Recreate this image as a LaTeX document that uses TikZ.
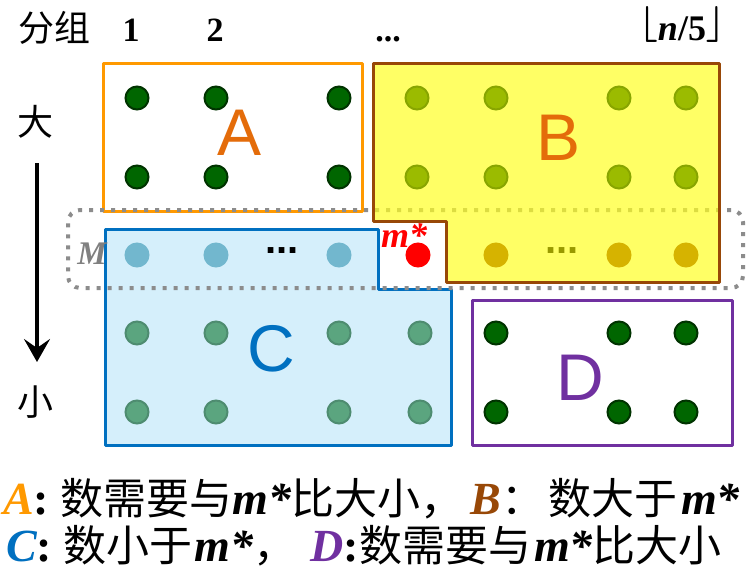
\documentclass[tikz,border=0pt]{standalone}
\usepackage{fontspec}
\setmainfont{Liberation Serif}
\newfontfamily\cjk{Noto Sans CJK SC}
\newfontfamily\arialf{Liberation Sans}
\usetikzlibrary{arrows.meta}
\definecolor{cAbord}{HTML}{FF9900}
\definecolor{cLetter}{HTML}{E46C0A}
\definecolor{cBbord}{HTML}{984807}
\definecolor{cBfill}{HTML}{FFFF24}
\definecolor{cCbord}{HTML}{0070C0}
\definecolor{cCfill}{HTML}{D5EFFB}
\definecolor{cDbord}{HTML}{7030A0}
\definecolor{dkgreen}{HTML}{006600}
\definecolor{dkgreenb}{HTML}{003300}
\definecolor{olivedot}{HTML}{9BBB00}
\definecolor{olivedotb}{HTML}{88A500}
\definecolor{golddot}{HTML}{D6B300}
\definecolor{ltbluedot}{HTML}{72B7CE}
\definecolor{tealdot}{HTML}{5BA57F}
\definecolor{tealdotb}{HTML}{4E8C70}
\definecolor{dotgray}{HTML}{8C8C8C}
\definecolor{olivetxt}{HTML}{999900}
\newcommand\zh[1]{{\fontsize{43}{48}\selectfont\cjk #1}}
\newcommand\bi[1]{{\bfseries\itshape #1}}
\newcommand\flb[1]{\raisebox{7pt}{\scalebox{3.6}{\normalsize\boldmath$#1$}}}
\tikzset{
  dotbase/.style={circle, inner sep=0pt, minimum size=23pt, line width=2pt},
  dotA/.style={dotbase, fill=dkgreen, draw=dkgreenb},
  dotB/.style={dotbase, fill=olivedot, draw=olivedotb},
  dotG/.style={dotbase, fill=golddot, draw=golddot},
  dotL/.style={dotbase, fill=ltbluedot, draw=ltbluedot},
  dotT/.style={dotbase, fill=tealdot, draw=tealdotb},
  dotR/.style={dotbase, fill=red, draw=red},
  boxline/.style={line width=3pt, line join=round},
  biglet/.style={inner sep=0pt, font=\fontsize{66}{70}\selectfont\arialf},
  cjklab/.style={inner sep=0pt, font=\fontsize{36}{40}\selectfont\cjk},
  numlab/.style={anchor=base, inner sep=0pt, font=\fontsize{34}{40}\selectfont\bfseries},
  sqdots/.style={anchor=base, inner sep=0pt, font=\fontsize{40}{44}\selectfont\arialf\bfseries},
  legend/.style={anchor=base west, inner sep=0pt, font=\fontsize{46}{50}\selectfont},
}
\begin{document}
\begin{tikzpicture}[x=1pt,y=-1pt]
\fill[white] (0,0) rectangle (755,578);
\useasboundingbox (0,0) rectangle (755,578);

% header
\node[cjklab] (fz) at (54,28) {分组};
\node[numlab] (g1) at (131,42) {1};
\node[numlab] (g2) at (215,42) {2};
\node[numlab] (gd) at (388,42) {...};
\node[anchor=base, inner sep=0pt, font=\fontsize{36}{40}\selectfont] (gn) at (682,41)
  {\flb{\lfloor}\textbf{\textit{n}/5}\flb{\rfloor}};

% side labels and arrow
\node[cjklab] (da) at (35,122) {大};
\node[cjklab] (xiao) at (35,402) {小};
\coordinate (arrT) at (37,163);
\coordinate (arrB) at (37,362);
\draw[line width=4pt, -{Stealth[length=23pt,width=26pt,inset=9pt]}] (arrT) -- (arrB);

% box A
\node[draw=cAbord, boxline, minimum width=259pt, minimum height=147pt, inner sep=0pt] (boxA) at (232.5,137.5) {};
% box C
\draw[boxline, draw=cCbord, fill=cCfill] (105,229) -- (378,229) -- (378,289) -- (451,289) -- (451,445) -- (105,445) -- cycle;
% box D
\node[draw=cDbord, boxline, minimum width=260pt, minimum height=145pt, inner sep=0pt] (boxD) at (602,372.5) {};
% dotted M box
\node[draw=dotgray, line width=4pt, dash pattern=on 4pt off 7pt, rounded corners=12pt,
      minimum width=675pt, minimum height=78pt, inner sep=0pt] (boxM) at (405.5,249) {};
% box B
\draw[boxline, draw=cBbord, fill=cBfill, fill opacity=0.7] (373,64) -- (719,64) -- (719,282) -- (446,282) -- (446,221) -- (373,221) -- cycle;

% dots A
\foreach \x [count=\i] in {137,216,339} {
  \foreach \y [count=\j] in {98,177} {
    \node[dotA] (a\i\j) at (\x,\y) {};
  }
}
% dots B
\foreach \x [count=\i] in {417,496,619,686} {
  \foreach \y [count=\j] in {98,177} {
    \node[dotB] (b\i\j) at (\x,\y) {};
  }
}
% M row
\foreach \x [count=\i] in {137,216,339} {
  \node[dotL] (ml\i) at (\x,255) {};
}
\foreach \x [count=\i] in {496,619,686} {
  \node[dotG] (mg\i) at (\x,255) {};
}
\node[dotR] (mdot) at (418,255) {};
\node[sqdots] (cdots) at (282,253) {...};
\node[sqdots, text=olivetxt] (bdots) at (562,253) {...};
% dots C
\foreach \x [count=\i] in {137,216,339,420} {
  \foreach \y [count=\j] in {333,412} {
    \node[dotT] (c\i\j) at (\x,\y) {};
  }
}
% dots D
\foreach \x [count=\i] in {496,619,686} {
  \foreach \y [count=\j] in {333,412} {
    \node[dotA] (d\i\j) at (\x,\y) {};
  }
}

% letters
\node[biglet, text=cLetter] (labA) at (240,133) {A};
\node[biglet, text=cLetter] (labB) at (559,138) {B};
\node[biglet, text=cCbord] (labC) at (271,349) {C};
\node[biglet, text=cDbord] (labD) at (580,378) {D};
\node[inner sep=0pt, text=gray, font=\fontsize{33}{36}\selectfont\bfseries\itshape] (labM) at (92,254) {M};
\node[anchor=base west, inner sep=0pt, text=red, font=\fontsize{36}{40}\selectfont\bfseries\itshape] (mstar) at (381,247) {m*};

% legend
\node[legend] (leg1) at (3,514) {\textcolor{cAbord}{\bi{A}}\textbf{:} \zh{数需要与}\bi{m*}\zh{比大小，}\hspace{7pt}\textcolor{cBbord}{\bi{B}}\zh{：}\hspace{4pt}\zh{数大于}\hspace{4pt}\bi{m*}};
\node[legend] (leg2) at (6,561) {\textcolor{cCbord}{\bi{C}}\textbf{:} \zh{数小于}\hspace{2pt}\bi{m*}\zh{，}\hspace{14pt}\textcolor{cDbord}{\bi{D}}\textbf{:}\zh{数需要与}\hspace{3pt}\bi{m*}\zh{比大小}};
\end{tikzpicture}
\end{document}
